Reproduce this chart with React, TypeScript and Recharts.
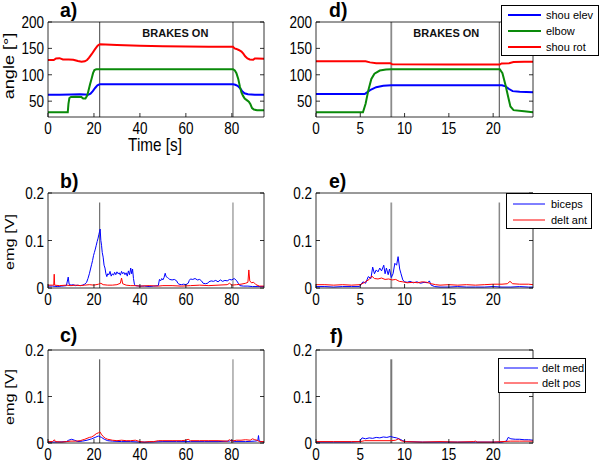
import React from "react";
import { LineChart, Line, XAxis, YAxis, ReferenceLine, ReferenceArea, Legend } from "recharts";

const FONT = "'Liberation Sans', Arial, Helvetica, sans-serif";
const STRETCH = 1.25; // the figure's tick and axis text is tall and narrow
const TICK_FS = 13.5;

type Pt = [number, number];

// brake on/off times
const brakesSlow = [22.5, 80.5];
const brakesFast = [8.5, 20.7];

const timeTicksSlow = [0, 20, 40, 60, 80];
const timeTicksFast = [0, 5, 10, 15, 20];
const angleTicks = [50, 100, 150, 200];
const emgTicks = [0, 0.1, 0.2];

// a) joint angles, slow trial
const shouElevA: Pt[] = [
  [0, 62], [5, 62], [10, 62.5], [14, 63], [16, 62.5], [17.5, 62], [18.5, 64], [19.5, 69], [20.5, 75],
  [21.5, 80], [22.5, 82], [40, 82], [60, 82], [80.5, 82], [81.5, 81], [82.5, 79], [83.5, 75],
  [84.5, 69], [85.5, 65], [87, 63], [90, 62], [94, 62],
];
const elbowA: Pt[] = [
  [0, 29], [8.6, 29], [8.9, 45], [9.3, 56], [10, 58], [12, 58.5], [14.5, 58], [15.3, 55], [16.3, 55],
  [17, 60], [17.5, 68], [18.3, 82], [19, 93], [19.6, 103], [20.2, 109], [21, 110.5], [40, 110.5],
  [60, 110.5], [80.5, 110.5], [81.3, 108], [82, 103], [82.8, 92], [83.5, 78], [84.2, 66], [84.9, 60],
  [85.6, 55], [86.5, 52], [87.4, 49], [88.1, 44], [88.8, 37], [89.6, 34], [91, 33], [94, 33],
];
const shouRotA: Pt[] = [
  [0, 128], [2.5, 128], [3.5, 131], [5, 131.5], [6.5, 129], [9, 129], [11, 128.5], [13, 126],
  [14.6, 124.5], [16, 125.5], [17, 128], [17.8, 132], [19, 139], [20.4, 148], [21.6, 155], [22.5, 158],
  [25, 157.5], [30, 156.5], [40, 155], [50, 154], [60, 153.5], [70, 153], [80.5, 153], [81.2, 150],
  [82, 149], [83, 147], [84.2, 144], [85, 140], [85.8, 135], [86.8, 131], [87.8, 129], [89.3, 128.5],
  [90, 131], [91, 131], [94, 130.5],
];

// d) joint angles, fast trial
const shouElevD: Pt[] = [
  [0, 63.5], [5.5, 63.5], [6.1, 71], [6.8, 76.5], [7.6, 79], [8.5, 80], [15, 80], [21, 80],
  [21.4, 78], [21.8, 73], [22.2, 69], [23, 68], [24.5, 67],
];
const elbowD: Pt[] = [
  [0, 29], [5.3, 29], [5.6, 45], [5.9, 70], [6.25, 92], [6.6, 102], [7.2, 108], [7.9, 110],
  [8.5, 110.5], [15, 110.5], [20.75, 110.5], [21.05, 103], [21.4, 80], [21.7, 58], [21.95, 40],
  [22.3, 33], [23.5, 31], [24.5, 29],
];
const shouRotD: Pt[] = [
  [0, 125.5], [5.6, 125.5], [6.1, 123.5], [6.8, 122], [8.4, 122], [8.6, 119.8], [15, 119.5],
  [20.75, 119.3], [20.95, 121.5], [21.8, 121.8], [22.3, 124], [23.5, 124.5], [24.5, 124.7],
];

// b) biceps / delt ant, slow trial
const bicepsB: Pt[] = [
  [0, 0.004], [2, 0.004], [4, 0.003], [6, 0.004], [8, 0.005], [8.8, 0.023], [9.2, 0.008], [10, 0.006],
  [11, 0.007], [12, 0.005], [13, 0.006], [14, 0.005], [15, 0.006], [16, 0.008], [16.8, 0.012],
  [17.4, 0.02], [18, 0.03], [18.5, 0.04], [19, 0.05], [19.4, 0.058], [19.8, 0.068], [20.2, 0.075],
  [20.6, 0.082], [21, 0.09], [21.4, 0.098], [21.8, 0.105], [22.1, 0.112], [22.4, 0.118], [22.7, 0.124],
  [23, 0.1], [23.3, 0.09], [23.6, 0.075], [24, 0.065], [24.4, 0.048], [24.8, 0.042], [25.2, 0.03],
  [25.6, 0.024], [26, 0.03], [26.5, 0.028], [27, 0.035], [27.5, 0.025], [28, 0.03], [28.5, 0.027],
  [29, 0.033], [29.5, 0.028], [30, 0.034], [30.5, 0.03], [31, 0.032], [31.5, 0.027], [32, 0.035],
  [32.5, 0.03], [33, 0.033], [33.5, 0.028], [34, 0.032], [34.5, 0.025], [35, 0.036], [35.5, 0.028],
  [36, 0.042], [36.4, 0.03], [36.8, 0.04], [37.2, 0.02], [37.6, 0.008], [38, 0.005], [40, 0.004],
  [42, 0.004], [44, 0.003], [46, 0.004], [48, 0.005], [48.5, 0.018], [49, 0.015], [49.5, 0.02],
  [50, 0.017], [50.5, 0.022], [51, 0.031], [51.4, 0.024], [52, 0.022], [52.5, 0.02], [53, 0.018],
  [54, 0.017], [55, 0.018], [56, 0.015], [56.5, 0.01], [57, 0.008], [58, 0.007], [59, 0.008],
  [60, 0.007], [61, 0.01], [61.5, 0.016], [62, 0.019], [63, 0.018], [64, 0.02], [65, 0.017],
  [66, 0.018], [66.8, 0.015], [67.5, 0.01], [68.5, 0.009], [69.5, 0.01], [70, 0.013], [71, 0.015],
  [72, 0.014], [73, 0.016], [74, 0.013], [75, 0.017], [76, 0.014], [77, 0.016], [78, 0.015],
  [79, 0.018], [80, 0.017], [81, 0.02], [82, 0.016], [82.8, 0.01], [83.5, 0.005], [85, 0.004],
  [87, 0.004], [89, 0.003], [91, 0.003], [94, 0.003],
];
const deltAntB: Pt[] = [
  [0, 0.006], [2, 0.006], [2.5, 0.006], [2.7, 0.029], [2.9, 0.006], [5, 0.005], [8, 0.006], [10, 0.005],
  [12, 0.006], [14, 0.005], [16, 0.006], [18, 0.007], [20, 0.006], [22, 0.008], [23, 0.01], [24, 0.007],
  [26, 0.006], [28, 0.006], [30, 0.007], [31.5, 0.01], [32, 0.021], [32.5, 0.009], [34, 0.006],
  [36, 0.005], [38, 0.005], [40, 0.004], [44, 0.005], [48, 0.004], [50, 0.005], [54, 0.005],
  [58, 0.004], [62, 0.005], [66, 0.006], [70, 0.005], [74, 0.006], [78, 0.007], [79, 0.01], [80, 0.006],
  [82, 0.007], [84, 0.008], [86, 0.01], [87, 0.012], [87.4, 0.038], [87.8, 0.015], [88.5, 0.011],
  [89.5, 0.012], [90.5, 0.007], [92, 0.004], [94, 0.004],
];

// e) biceps / delt ant, fast trial
const bicepsE: Pt[] = [
  [0, 0.003], [1, 0.003], [2, 0.002], [3, 0.003], [4, 0.003], [4.9, 0.003], [5.3, 0.013], [5.6, 0.01],
  [5.9, 0.024], [6.2, 0.02], [6.4, 0.044], [6.6, 0.03], [6.8, 0.038], [7, 0.034], [7.2, 0.042],
  [7.4, 0.036], [7.65, 0.048], [7.8, 0.03], [7.95, 0.042], [8.15, 0.028], [8.3, 0.04], [8.5, 0.022],
  [8.7, 0.03], [8.9, 0.052], [9.1, 0.048], [9.27, 0.066], [9.45, 0.04], [9.6, 0.03], [9.8, 0.017],
  [10, 0.013], [10.3, 0.012], [10.6, 0.014], [11, 0.011], [11.4, 0.013], [11.8, 0.01], [12.2, 0.012],
  [12.6, 0.011], [12.8, 0.015], [13, 0.006], [13.4, 0.003], [14, 0.002], [15, 0.002], [16, 0.003],
  [17, 0.002], [18, 0.002], [19, 0.002], [20, 0.003], [21, 0.002], [22, 0.002], [23, 0.003],
  [24, 0.002], [24.5, 0.002],
];
const deltAntE: Pt[] = [
  [0, 0.007], [1, 0.007], [2, 0.006], [3, 0.007], [4, 0.006], [5, 0.007], [5.5, 0.012], [6, 0.018],
  [6.3, 0.025], [6.6, 0.02], [7, 0.019], [7.4, 0.021], [7.8, 0.018], [8.2, 0.019], [8.6, 0.017],
  [9, 0.018], [9.4, 0.014], [9.8, 0.013], [10.3, 0.011], [11, 0.012], [11.5, 0.011], [12, 0.013],
  [12.5, 0.012], [13, 0.009], [13.5, 0.007], [14, 0.006], [15, 0.007], [16, 0.006], [17, 0.007],
  [18, 0.006], [19, 0.007], [20, 0.008], [21, 0.008], [21.6, 0.009], [21.9, 0.014], [22.2, 0.009],
  [23, 0.008], [24, 0.008], [24.5, 0.007],
];

// c) delt med / delt pos, slow trial
const deltMedC: Pt[] = [
  [0, 0.002], [4, 0.002], [8, 0.003], [9, 0.006], [10.3, 0.008], [11.5, 0.006], [13, 0.003],
  [15, 0.004], [17, 0.006], [19, 0.009], [20.5, 0.012], [21.9, 0.015], [23.3, 0.012], [24.5, 0.008],
  [26, 0.005], [28, 0.004], [32, 0.003], [36, 0.003], [40, 0.002], [44, 0.002], [50, 0.003],
  [56, 0.003], [62, 0.003], [68, 0.003], [74, 0.003], [79, 0.004], [80, 0.006], [81, 0.003],
  [86, 0.003], [90, 0.004], [91.3, 0.005], [91.6, 0.016], [91.9, 0.004], [94, 0.002],
];
const deltPosC: Pt[] = [
  [0, 0.003], [2, 0.003], [2.8, 0.007], [3.2, 0.003], [6, 0.002], [8, 0.003], [10, 0.004], [12, 0.004],
  [14, 0.005], [16, 0.008], [18, 0.012], [19, 0.013], [20, 0.016], [21, 0.02], [22, 0.022],
  [22.6, 0.024], [23.2, 0.019], [24, 0.014], [25, 0.01], [26, 0.008], [28, 0.006], [30, 0.005],
  [32, 0.006], [34, 0.005], [36, 0.005], [38, 0.006], [40, 0.003], [42, 0.002], [44, 0.003],
  [46, 0.003], [48, 0.005], [50, 0.005], [54, 0.005], [58, 0.005], [60, 0.006], [61, 0.008],
  [62, 0.005], [66, 0.005], [70, 0.005], [74, 0.005], [78, 0.004], [79, 0.007], [80, 0.004],
  [82, 0.006], [84, 0.006], [86, 0.007], [88, 0.006], [89, 0.009], [90, 0.007], [91, 0.006],
  [92, 0.003], [94, 0.003],
];

// f) delt med / delt pos, fast trial
const deltMedF: Pt[] = [
  [0, 0.002], [2, 0.002], [4, 0.002], [4.9, 0.003], [5.2, 0.011], [5.6, 0.009], [6, 0.011], [6.4, 0.01],
  [6.8, 0.012], [7.2, 0.011], [7.6, 0.013], [8, 0.012], [8.4, 0.014], [8.8, 0.012], [9.1, 0.011],
  [9.5, 0.008], [9.8, 0.005], [10.2, 0.003], [12, 0.002], [14, 0.002], [16, 0.002], [18, 0.002],
  [20, 0.002], [21, 0.002], [21.5, 0.004], [21.7, 0.012], [22, 0.009], [22.5, 0.008], [23, 0.008],
  [23.5, 0.007], [24, 0.007], [24.5, 0.006],
];
const deltPosF: Pt[] = [
  [0, 0.003], [2, 0.003], [4, 0.003], [5, 0.003], [5.5, 0.005], [7, 0.005], [8.5, 0.005], [9, 0.006],
  [9.3, 0.009], [9.6, 0.005], [10, 0.003], [12, 0.002], [14, 0.003], [16, 0.002], [17.8, 0.003],
  [18, 0.004], [18.2, 0.002], [20, 0.002], [21, 0.003], [22, 0.004], [23, 0.004], [24.5, 0.004],
];

const BLUE = "#0000ff";
const GREEN = "#0a8a0a";
const RED = "#ff0000";

type SeriesSpec = { name: string; color: string; w: number; pts: Pt[] };
type LegendSpec = { left: number; top: number; w: number; h: number; y0: number; dy: number; lx1: number; lx2: number; tx: number; sw: number };
type PanelSpec = {
  box: [number, number, number, number];
  plot: [number, number, number, number];
  xDomain: [number, number];
  xTicks: number[];
  yDomain: [number, number];
  yTicks: number[];
  series: SeriesSpec[];
  brakes: number[];
  brakeTop?: number;
  brakeStyle: { color: string; w: number }[];
  brakesTextDx?: number;
  legend?: LegendSpec;
};

const toRows = (pts: Pt[]) => pts.map(([t, v]) => ({ t, v }));

function BottomTick(props: any) {
  const { x, y, payload, gap } = props;
  const ay = y - gap;
  return (
    <g>
      <line x1={x} y1={ay} x2={x} y2={ay - 4} stroke="#000" strokeWidth={0.8} />
      <text transform={`translate(${x},${y}) scale(1,${STRETCH})`} y={TICK_FS * 0.72} textAnchor="middle"
        fontSize={TICK_FS} fontFamily={FONT} fill="#000">{String(payload.value)}</text>
    </g>
  );
}

function LeftTick(props: any) {
  const { x, y, payload, gap } = props;
  const ax = x + gap;
  return (
    <g>
      <line x1={ax} y1={y} x2={ax + 4} y2={y} stroke="#000" strokeWidth={0.8} />
      <text transform={`translate(${x},${y}) scale(1,${STRETCH})`} y={TICK_FS * 0.36} textAnchor="end"
        fontSize={TICK_FS} fontFamily={FONT} fill="#000">{String(payload.value)}</text>
    </g>
  );
}

const TopTick = (props: any) => (
  <line x1={props.x} y1={props.y} x2={props.x} y2={props.y + 4} stroke="#000" strokeWidth={0.8} />
);
const RightTick = (props: any) => (
  <line x1={props.x} y1={props.y} x2={props.x - 4} y2={props.y} stroke="#000" strokeWidth={0.8} />
);

function legendContent(spec: LegendSpec, order: string[]) {
  return (props: any) => {
    const items = [...(props.payload || [])].sort(
      (a: any, b: any) => order.indexOf(a.value) - order.indexOf(b.value)
    );
    return (
      <svg width={spec.w} height={spec.h} style={{ display: "block" }}>
        <rect x={0.5} y={0.5} width={spec.w - 1} height={spec.h - 1} fill="#fff" stroke="#000" />
        {items.map((it: any, i: number) => {
          const yy = spec.y0 + i * spec.dy;
          return (
            <g key={i}>
              <line x1={spec.lx1} x2={spec.lx2} y1={yy} y2={yy} stroke={it.color} strokeWidth={spec.sw} />
              <text x={spec.tx} y={yy} dy="0.35em" fontSize={11} fontFamily={FONT} fill="#000">{it.value}</text>
            </g>
          );
        })}
      </svg>
    );
  };
}

const AXIS = { stroke: "#000", strokeWidth: 0.8 };

function Panel({ spec }: { spec: PanelSpec }) {
  const [cl, ct, cw, ch] = spec.box;
  const [pl, pt, pr, pb] = spec.plot;
  const margin = { top: pt - ct - 1, right: cl + cw - pr - 1, bottom: 0, left: 0 };
  return (
    <div style={{ position: "absolute", left: cl, top: ct }}>
      <LineChart width={cw} height={ch} margin={margin}>
        <XAxis dataKey="t" type="number" domain={spec.xDomain} allowDataOverflow ticks={spec.xTicks} interval={0}
          height={ct + ch - pb} tickSize={0} tickMargin={5} tickLine={false} axisLine={AXIS}
          tick={(p: any) => <BottomTick {...p} gap={5} />} />
        <XAxis xAxisId="top" orientation="top" type="number" domain={spec.xDomain} allowDataOverflow
          ticks={spec.xTicks} interval={0} height={1} tickSize={0} tickMargin={0} tickLine={false}
          axisLine={AXIS} tick={TopTick} />
        <YAxis type="number" domain={spec.yDomain} allowDataOverflow ticks={spec.yTicks} interval={0}
          width={pl - cl} tickSize={0} tickMargin={4} tickLine={false} axisLine={AXIS}
          tick={(p: any) => <LeftTick {...p} gap={4} />} />
        <YAxis yAxisId="r" orientation="right" type="number" domain={spec.yDomain} allowDataOverflow
          ticks={spec.yTicks} interval={0} width={1} tickSize={0} tickMargin={0} tickLine={false}
          axisLine={AXIS} tick={RightTick} />
        {spec.brakesTextDx !== undefined && (
          <ReferenceArea x1={spec.brakes[0]} x2={spec.brakes[1]} fill="none" fillOpacity={0} stroke="none"
            label={(p: any) => (
              <text x={p.viewBox.x + p.viewBox.width / 2 + (spec.brakesTextDx || 0)} y={p.viewBox.y + 15}
                textAnchor="middle" fontSize={11} fontWeight="bold" fontFamily={FONT} fill="#111">BRAKES ON</text>
            )} />
        )}
        {spec.brakes.map((b, i) =>
          spec.brakeTop === undefined ? (
            <ReferenceLine key={i} x={b} stroke={spec.brakeStyle[i].color} strokeWidth={spec.brakeStyle[i].w} />
          ) : (
            <ReferenceLine key={i} segment={[{ x: b, y: 0 }, { x: b, y: spec.brakeTop }]}
              stroke={spec.brakeStyle[i].color} strokeWidth={spec.brakeStyle[i].w} />
          )
        )}
        {spec.series.map((s) => (
          <Line key={s.name} name={s.name} data={toRows(s.pts)} dataKey="v" type="linear" stroke={s.color}
            strokeWidth={s.w} dot={false} activeDot={false} isAnimationActive={false} />
        ))}
        {spec.legend && (
          <Legend layout="vertical" align="center" verticalAlign="middle"
            wrapperStyle={{ left: spec.legend.left, top: spec.legend.top, width: spec.legend.w, height: spec.legend.h }}
            content={legendContent(spec.legend, spec.series.map((s) => s.name))} />
        )}
      </LineChart>
    </div>
  );
}

const DARK = "#444";
const GREY = "#8a8a8a";

const panels: PanelSpec[] = [
  {
    box: [0, 0, 300, 155], plot: [48, 22, 264, 117], xDomain: [0, 94], xTicks: timeTicksSlow,
    yDomain: [20, 200], yTicks: angleTicks, brakes: brakesSlow,
    brakeStyle: [{ color: DARK, w: 1 }, { color: DARK, w: 1 }], brakesTextDx: 9,
    series: [
      { name: "shou elev", color: BLUE, w: 2, pts: shouElevA },
      { name: "elbow", color: GREEN, w: 2, pts: elbowA },
      { name: "shou rot", color: RED, w: 2, pts: shouRotA },
    ],
  },
  {
    box: [270, 0, 330, 155], plot: [316, 22, 533, 117], xDomain: [0, 24.5], xTicks: timeTicksFast,
    yDomain: [20, 200], yTicks: angleTicks, brakes: brakesFast,
    brakeStyle: [{ color: GREY, w: 1.8 }, { color: "#666", w: 1.2 }], brakesTextDx: 1,
    series: [
      { name: "shou elev", color: BLUE, w: 2, pts: shouElevD },
      { name: "elbow", color: GREEN, w: 2, pts: elbowD },
      { name: "shou rot", color: RED, w: 2, pts: shouRotD },
    ],
    legend: { left: 231, top: 5, w: 98, h: 51, y0: 10, dy: 16, lx1: 7, lx2: 40, tx: 45, sw: 2 },
  },
  {
    box: [0, 160, 300, 160], plot: [48, 193, 264, 288], xDomain: [0, 94], xTicks: timeTicksSlow,
    yDomain: [0, 0.2], yTicks: emgTicks, brakes: brakesSlow, brakeTop: 0.18,
    brakeStyle: [{ color: "#555", w: 1 }, { color: "#777", w: 1 }],
    series: [
      { name: "biceps", color: BLUE, w: 1, pts: bicepsB },
      { name: "delt ant", color: RED, w: 1, pts: deltAntB },
    ],
  },
  {
    box: [270, 160, 330, 160], plot: [316, 193, 533, 288], xDomain: [0, 24.5], xTicks: timeTicksFast,
    yDomain: [0, 0.2], yTicks: emgTicks, brakes: brakesFast, brakeTop: 0.18,
    brakeStyle: [{ color: "#999", w: 1.8 }, { color: "#888", w: 1.5 }],
    series: [
      { name: "biceps", color: BLUE, w: 1, pts: bicepsE },
      { name: "delt ant", color: RED, w: 1, pts: deltAntE },
    ],
    legend: { left: 236, top: 33, w: 86, h: 36, y0: 11, dy: 16, lx1: 7, lx2: 39, tx: 45, sw: 1 },
  },
  {
    box: [0, 310, 300, 152], plot: [48, 350, 264, 443], xDomain: [0, 94], xTicks: timeTicksSlow,
    yDomain: [0, 0.2], yTicks: emgTicks, brakes: brakesSlow, brakeTop: 0.18,
    brakeStyle: [{ color: "#444", w: 1 }, { color: "#777", w: 1 }],
    series: [
      { name: "delt med", color: BLUE, w: 1, pts: deltMedC },
      { name: "delt pos", color: RED, w: 1, pts: deltPosC },
    ],
  },
  {
    box: [270, 310, 330, 152], plot: [316, 350, 533, 443], xDomain: [0, 24.5], xTicks: timeTicksFast,
    yDomain: [0, 0.2], yTicks: emgTicks, brakes: brakesFast, brakeTop: 0.18,
    brakeStyle: [{ color: "#777", w: 2 }, { color: "#555", w: 1 }],
    series: [
      { name: "delt med", color: BLUE, w: 1, pts: deltMedF },
      { name: "delt pos", color: RED, w: 1, pts: deltPosF },
    ],
    legend: { left: 228, top: 48, w: 88, h: 35, y0: 10, dy: 15, lx1: 6, lx2: 40, tx: 44, sw: 1 },
  },
];

const panelLetters = [
  { s: "a)", x: 60, y: 17 }, { s: "d)", x: 329, y: 17 },
  { s: "b)", x: 60, y: 188 }, { s: "e)", x: 329, y: 188 },
  { s: "c)", x: 60, y: 342 }, { s: "f)", x: 330, y: 343 },
];

export default function App() {
  return (
    <div style={{ position: "absolute", left: 0, top: 0, width: 600, height: 462, background: "#fff", overflow: "hidden", fontFamily: FONT }}>
      <style>{".recharts-surface{overflow:visible}"}</style>
      {panels.map((p, i) => <Panel key={i} spec={p} />)}
      <svg width={600} height={462} style={{ position: "absolute", left: 0, top: 0, pointerEvents: "none" }}>
        {panelLetters.map((l) => (
          <text key={l.s} x={l.x} y={l.y} fontSize={19.5} fontWeight="bold" fontFamily={FONT} fill="#000">{l.s}</text>
        ))}
        <text transform={`translate(14,66) scale(1,${STRETCH}) rotate(-90)`} textAnchor="middle" fontSize={14.5} fontFamily={FONT} fill="#000">angle [°]</text>
        <text transform={`translate(155,151) scale(1,${STRETCH})`} textAnchor="middle" fontSize={15.3} fontFamily={FONT} fill="#000">Time [s]</text>
        <text transform={`translate(14,242) scale(1,${STRETCH}) rotate(-90)`} textAnchor="middle" fontSize={13} fontFamily={FONT} fill="#000">emg [V]</text>
        <text transform={`translate(14,397) scale(1,${STRETCH}) rotate(-90)`} textAnchor="middle" fontSize={13} fontFamily={FONT} fill="#000">emg [V]</text>
      </svg>
    </div>
  );
}
